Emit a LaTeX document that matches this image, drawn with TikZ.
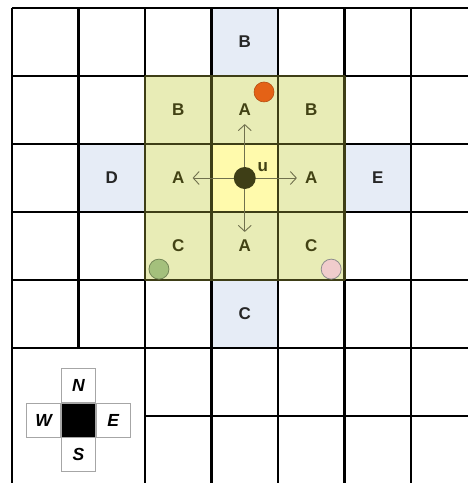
\documentclass[tikz,border=0pt]{standalone}
\usepackage{fontspec}
\setmainfont{Liberation Sans}
\usetikzlibrary{arrows.meta,positioning}

\definecolor{cellgreen}{RGB}{232,236,182}
\definecolor{cellyellow}{RGB}{255,250,172}
\definecolor{cellblue}{RGB}{230,236,246}
\definecolor{oliveline}{RGB}{62,62,22}
\definecolor{olivetext}{RGB}{66,66,20}
\definecolor{arrowgray}{RGB}{112,112,78}
\definecolor{dotorange}{RGB}{228,98,22}
\definecolor{dotgreen}{RGB}{164,192,124}
\definecolor{dotpink}{RGB}{240,204,204}

\tikzset{
  gridline/.style={line width=2.7pt, black},
  blockline/.style={line width=2.7pt, oliveline},
  letter/.style={font=\fontsize{17}{20}\selectfont\bfseries, text=olivetext, inner sep=8pt},
  blueletter/.style={letter, text=black!85},
  move/.style={-{Straight Barb[length=6pt,width=13pt]}, line width=0.9pt, arrowgray},
  compbox/.style={draw=black!35, line width=0.8pt, minimum size=34pt, inner sep=0pt,
    font=\fontsize{17.5}{20}\selectfont\bfseries\itshape}
}

\begin{document}
\begin{tikzpicture}[x=66.5pt, y=-68pt]
            \clip (-12pt,8pt) rectangle (456pt,-475pt);
            % Cells
            \fill[cellblue] (3,0) rectangle (4,1);
            \fill[cellblue] (1,2) rectangle (2,3);
            \fill[cellblue] (5,2) rectangle (6,3);
            \fill[cellblue] (3,4) rectangle (4,5);
            \fill[cellgreen] (2,1) rectangle (5,4);
            \fill[cellyellow] (3,2) rectangle (4,3);
            
            % Grid
            \foreach \i in {0,2,3,4,5,6,7}
                \draw[gridline] (\i,0) -- (\i,7.5);
            \draw[gridline] (1,0) -- (1,5);
            \foreach \j in {0,...,5}
                \draw[gridline] (0,\j) -- (7.5,\j);
            \draw[gridline] (2,6) -- (7.5,6);
            \foreach \k in {1,...,4} {
                \draw[blockline] (\k+1,1) -- (\k+1,4);
                \draw[blockline] (2,\k) -- (5,\k);
            }
            
            % Labels
            \node[blueletter] (bTop) at (3.5,0.5) {B};
            \node[letter] (bNW) at (2.5,1.5) {B};
            \node[letter] (aN) at (3.5,1.5) {A};
            \node[letter] (bNE) at (4.5,1.5) {B};
            \node[blueletter] (dW) at (1.5,2.5) {D};
            \node[letter] (aW) at (2.5,2.5) {A};
            \node[letter] (aE) at (4.5,2.5) {A};
            \node[blueletter] (eE) at (5.5,2.5) {E};
            \node[letter] (cSW) at (2.5,3.5) {C};
            \node[letter] (aS) at (3.5,3.5) {A};
            \node[letter] (cSE) at (4.5,3.5) {C};
            \node[blueletter] (cBot) at (3.5,4.5) {C};
            
            % Moves
            \coordinate (uc) at (3.5,2.5);
            \draw[move] (uc) -- (aN);
            \draw[move] (uc) -- (aW);
            \draw[move] (uc) -- (aE);
            \draw[move] (uc) -- (aS);
            \node[circle, fill=oliveline, minimum size=22pt, inner sep=0pt] (u) at (uc) {};
            \node[letter, inner sep=0pt] (uLbl) at (3.77,2.34) {u};
            
            % Dots
            \node[circle, fill=dotorange, draw=dotorange!80!black, line width=0.6pt, minimum size=20pt, inner sep=0pt] (dotA) at (3.79,1.235) {};
            \node[circle, fill=dotgreen, draw=dotgreen!70!black, line width=0.8pt, minimum size=20pt, inner sep=0pt] (dotB) at (2.21,3.84) {};
            \node[circle, fill=dotpink, draw=black!45, line width=0.8pt, minimum size=20pt, inner sep=0pt] (dotC) at (4.80,3.84) {};
            
            % Compass
            \node[compbox, fill=black] (ctr) at (1.0,6.06) {};
            \node[compbox, above=0pt of ctr] (nN) {N};
            \node[compbox, below=0pt of ctr] (nS) {S};
            \node[compbox, left=0pt of ctr] (nW) {W};
            \node[compbox, right=0pt of ctr] (nE) {E};
        \end{tikzpicture}
\end{document}
